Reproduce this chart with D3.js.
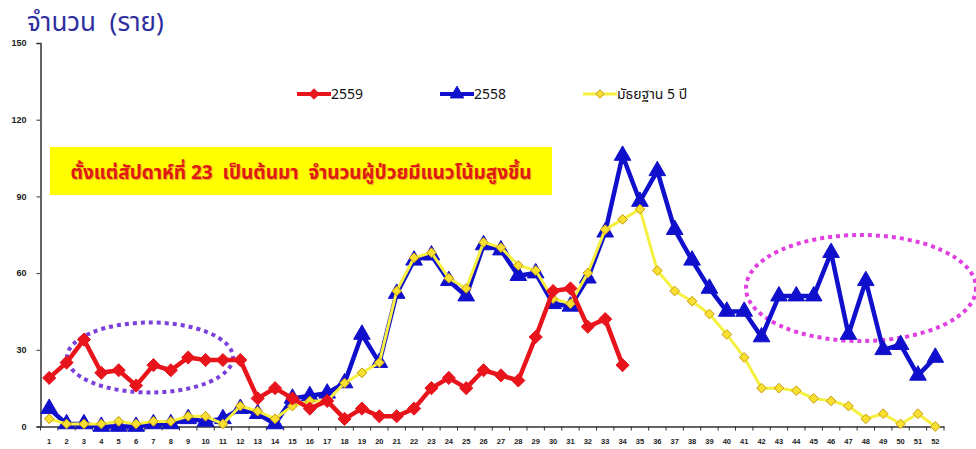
<!DOCTYPE html>
<html><head><meta charset="utf-8">
<script src="https://cdn.jsdelivr.net/npm/d3@7"></script>
<style>
body{margin:0;background:#fff;}
svg{display:block;font-family:"Noto Sans Thai","Noto Sans","DejaVu Sans",Arial,sans-serif;}
</style></head>
<body><svg id="c" width="976" height="449"></svg>
<script>
const weeks = d3.range(1, 53);
const yTicks = [0, 30, 60, 90, 120, 150];
const s2559 = [19,25,34,21,22,16,24,22,27,26,26,26,11,15,11,7,10,3,7,4,4,7,15,19,15,22,20,18,35,53,54,39,42,24];
const s2558 = [7,1,1,0,0,0,1,1,3,2,3,7,5,1,11,12,13,17,36,25,52,65,67,57,51,71,69,59,60,48,47,58,76,106,88,100,77,65,54,45,45,35,51,51,51,68,36,57,30,32,20,27];
const median5 = [3,1,1,1,2,1,2,2,4,4,1,8,6,3,8,10,10,17,21,25,53,66,68,58,54,72,70,63,61,50,48,60,77,81,85,61,53,49,44,36,27,15,15,14,11,10,8,3,5,1,5,0];
const seriesNames = ["2559", "2558", "มัธยฐาน 5 ปี"];
const titleText = "จำนวน  (ราย)";
const noteText = "ตั้งแต่สัปดาห์ที่ 23  เป็นต้นมา  จำนวนผู้ป่วยมีแนวโน้มสูงขึ้น";

const svg = d3.select("#c");
const x = d3.scaleBand().domain(weeks).range([40.5, 944]).padding(0);
const y = d3.scaleLinear().domain([0, 150]).range([426.5, 43]);
const cx = d => x(d) + x.bandwidth() / 2;

// title
svg.append("text").attr("x", 27).attr("y", 31).attr("font-size", 26)
  .style("white-space", "pre").attr("fill", "#2e2e9e").text(titleText);

// y axis
const ya = svg.append("g").attr("transform", "translate(40.5,0)")
  .call(d3.axisLeft(y).tickValues(yTicks).tickSize(4).tickPadding(10));
ya.select(".domain").attr("stroke", "#333").attr("stroke-width", 1.5);
ya.selectAll(".tick line").attr("stroke", "#333");
ya.selectAll("text").attr("font-size", 9).attr("font-weight", "bold").attr("fill", "#222")
  .attr("font-family", "Arial, 'Liberation Sans', sans-serif");

// x axis
const xa = svg.append("g").attr("transform", "translate(0,426.5)")
  .call(d3.axisBottom(x).tickSize(0).tickPadding(12));
xa.select(".domain").attr("stroke", "#333").attr("stroke-width", 1.5);
xa.selectAll("text").attr("font-size", 7.5).attr("font-weight", "bold").attr("fill", "#222")
  .attr("font-family", "Arial, 'Liberation Sans', sans-serif");
xa.selectAll(".bt").data(weeks.concat([53])).enter().append("line")
  .attr("x1", d => d === 53 ? x(52) + x.bandwidth() : x(d))
  .attr("x2", d => d === 53 ? x(52) + x.bandwidth() : x(d))
  .attr("y1", 0).attr("y2", 4).attr("stroke", "#333");

// annotation box
svg.append("rect").attr("x", 50).attr("y", 147).attr("width", 502).attr("height", 48).attr("fill", "#ffff00");
svg.append("text").attr("x", 301).attr("y", 179).attr("text-anchor", "middle")
  .style("white-space", "pre")
  .attr("font-size", 19).attr("font-weight", "bold").attr("fill", "#e01a10")
  .style("text-shadow", "1px 1px 1px #e8a020").text(noteText);

// ellipses
svg.append("ellipse").attr("cx", 150).attr("cy", 357.5).attr("rx", 83).attr("ry", 35)
  .attr("fill", "none").attr("stroke", "#7b3fdc").attr("stroke-width", 4).attr("stroke-dasharray", "4 4");
svg.append("ellipse").attr("cx", 861).attr("cy", 288).attr("rx", 115).attr("ry", 53)
  .attr("fill", "none").attr("stroke", "#e040e0").attr("stroke-width", 4).attr("stroke-dasharray", "4 4");

const line = d3.line().x((d, i) => cx(weeks[i])).y(d => y(d));
const diamond = d3.symbol().type(d3.symbolDiamond2);
const tri = d3.symbol().type(d3.symbolTriangle);

function drawSeries(data, color, width, sym, size, mfill, mstroke) {
  svg.append("path").datum(data).attr("d", line).attr("fill", "none")
    .attr("stroke", color).attr("stroke-width", width).attr("stroke-linejoin", "round");
  svg.append("g").selectAll("path").data(data).enter().append("path")
    .attr("d", sym.size(size)())
    .attr("transform", (d, i) => `translate(${cx(weeks[i])},${y(d)})`)
    .attr("fill", mfill).attr("stroke", mstroke).attr("stroke-width", 1);
}
drawSeries(s2558, "#1010cc", 4.5, tri, 120, "#1010cc", "#1010cc");
drawSeries(median5, "#f6f040", 3, diamond, 60, "#f8e030", "#c89a10");
drawSeries(s2559, "#e8141c", 4.5, diamond, 110, "#e8141c", "#e8141c");

// legend
const leg = [
  {x: 297, color: "#e8141c", w: 4, sym: diamond, size: 70, f: "#e8141c", s: "#e8141c"},
  {x: 440, color: "#1010cc", w: 4, sym: tri, size: 80, f: "#1010cc", s: "#1010cc"},
  {x: 583, color: "#f6f040", w: 3, sym: diamond, size: 45, f: "#f8e030", s: "#c89a10"}
];
leg.forEach((l, i) => {
  const g = svg.append("g").attr("transform", `translate(${l.x},94)`);
  g.append("line").attr("x1", 0).attr("x2", 34).attr("stroke", l.color).attr("stroke-width", l.w);
  g.append("path").attr("d", l.sym.size(l.size)()).attr("transform", "translate(17,0)")
    .attr("fill", l.f).attr("stroke", l.s);
  g.append("text").attr("x", 34).attr("y", 5).attr("font-size", 14).attr("fill", "#111")
    .text(seriesNames[i]);
});
</script></body></html>
